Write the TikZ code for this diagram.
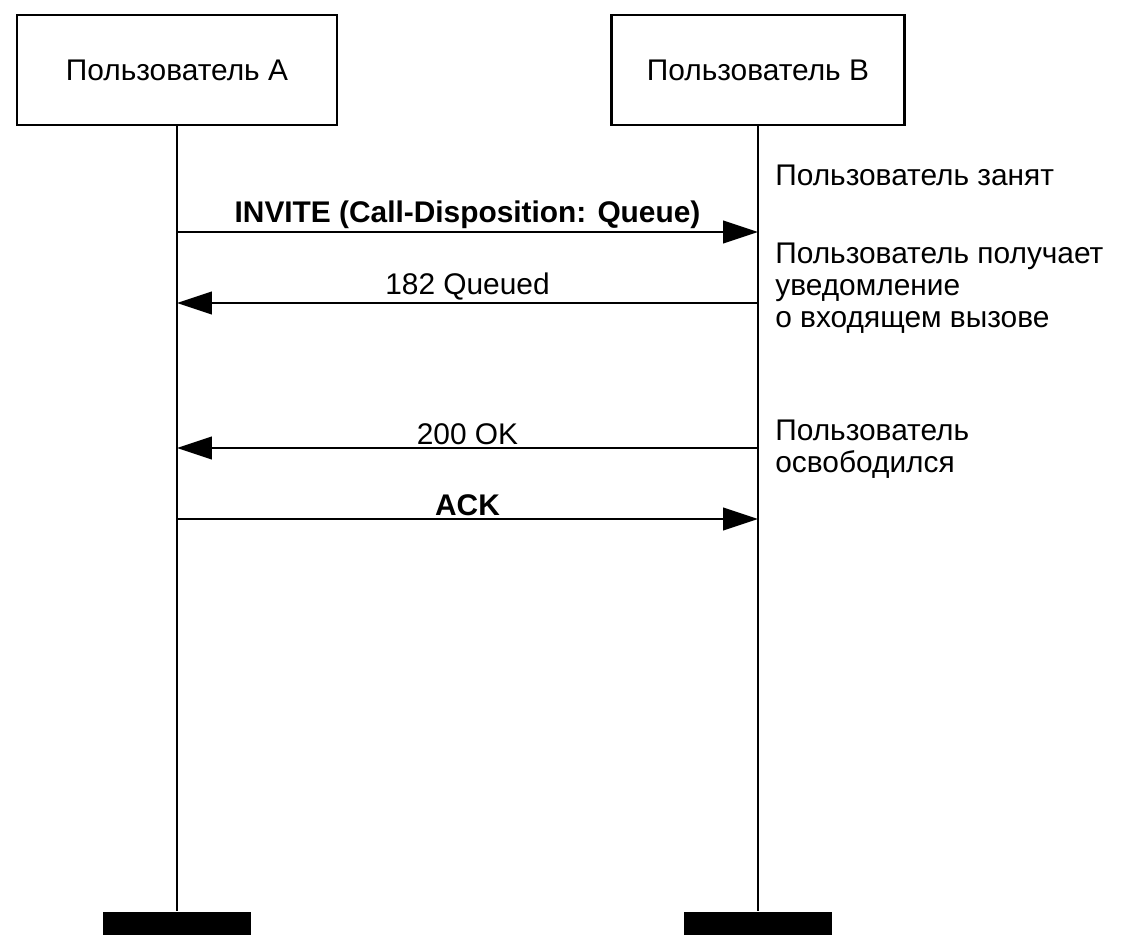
\documentclass[tikz,border=0pt]{standalone}
\usepackage{fontspec}
\setmainfont{Liberation Sans}
\usetikzlibrary{arrows.meta,positioning}
\tikzset{
  actor/.style={draw,line width=1.5pt,minimum width=6.2cm,minimum height=2.2cm,font=\fontsize{17}{20}\selectfont},
  bar/.style={fill=black,minimum width=2.98cm,minimum height=0.46cm,inner sep=0pt},
  msg/.style={line width=1.6pt,-{Triangle[length=0.7cm,width=0.45cm]}},
  lbl/.style={font=\fontsize{17}{20}\selectfont,inner sep=1pt},
  note/.style={font=\fontsize{17}{18}\selectfont,align=left,anchor=north west,inner sep=0pt}
}
\begin{document}
\begin{tikzpicture}[x=0.02cm,y=-0.02cm]
  \useasboundingbox (0,0) rectangle (1135,940);

  \node [actor,minimum width=6.4cm] (userA) at (177,70) {Пользователь A};
  \node [actor,minimum width=5.86cm] (userB) at (758,70) {Пользователь B};
  \node [bar] (endA) at (177,923) {};
  \node [bar] (endB) at (758,923) {};

  \draw [line width=1.6pt] (userA.south) -- (endA.north);
  \draw [line width=1.6pt] (userB.south) -- (endB.north);

  % messages
  \coordinate (a1) at (177,232); \coordinate (b1) at (758,232);
  \coordinate (a2) at (177,303); \coordinate (b2) at (758,303);
  \coordinate (a3) at (177,448); \coordinate (b3) at (758,448);
  \coordinate (a4) at (177,519); \coordinate (b4) at (758,519);

  \draw [msg] (a1) -- node [lbl,above,font=\fontsize{17}{20}\selectfont\bfseries] (invite) {INVITE (Call-Disposition: Queue)} (b1);
  \draw [msg] (b2) -- node [lbl,above] (queued) {182 Queued} (a2);
  \draw [msg] (b3) -- node [lbl,above] (ok) {200 OK} (a3);
  \draw [msg] (a4) -- node [lbl,above,font=\fontsize{17}{20}\selectfont\bfseries] (ack) {ACK} (b4);

  % notes
  \node [note] (busy) at (775,165) {Пользователь занят};
  \node [note] (notify) at (775,243) {Пользователь получает\\уведомление\\о входящем вызове};
  \node [note] (free) at (775,420) {Пользователь\\освободился};
\end{tikzpicture}
\end{document}
